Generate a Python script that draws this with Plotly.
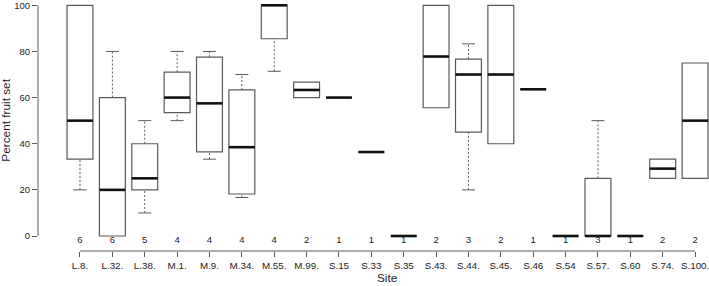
import plotly.graph_objects as go

sites = ["L.8.", "L.32.", "L.38.", "M.1.", "M.9.", "M.34.", "M.55.", "M.99.", "S.15", "S.33",
         "S.35", "S.43.", "S.44.", "S.45.", "S.46", "S.54", "S.57.", "S.60", "S.74.", "S.100."]
counts = [6, 6, 5, 4, 4, 4, 4, 2, 1, 1, 1, 2, 3, 2, 1, 1, 3, 1, 2, 2]
lower_whisker = [20, 0, 10, 50, 33.3, 16.7, 71.4, 60, 60, 36.4, 0, 55.6, 20, 40, 63.6, 0, 0, 0, 25, 25]
q1 = [33.3, 0, 20, 53.5, 36.5, 18.2, 85.5, 60, 60, 36.4, 0, 55.6, 45, 40, 63.6, 0, 0, 0, 25, 25]
median = [50, 20, 25, 60, 57.5, 38.5, 100, 63.3, 60, 36.4, 0, 77.8, 70, 70, 63.6, 0, 0, 0, 29.2, 50]
q3 = [100, 60, 40, 71, 77.5, 63.3, 100, 66.7, 60, 36.4, 0, 100, 76.7, 100, 63.6, 0, 25, 0, 33.3, 75]
upper_whisker = [100, 80, 50, 80, 80, 70, 100, 66.7, 60, 36.4, 0, 100, 83.3, 100, 63.6, 0, 50, 0, 33.3, 75]
y_ticks = [0, 20, 40, 60, 80, 100]

FONT = "Liberation Sans, Arial, Helvetica, sans-serif"
BOX_W = 0.8
CAP_W = 0.4
EDGE = "#5a5a5a"
TXT = "#222222"

xs = list(range(len(sites)))
fig = go.Figure()

# whiskers (dotted)
wx, wy = [], []
for i in xs:
    if upper_whisker[i] > q3[i]:
        wx += [i, i, None]; wy += [q3[i], upper_whisker[i], None]
    if lower_whisker[i] < q1[i]:
        wx += [i, i, None]; wy += [lower_whisker[i], q1[i], None]
fig.add_trace(go.Scatter(x=wx, y=wy, mode="lines", line=dict(color=EDGE, width=1, dash="2px,2px"),
                         hoverinfo="skip", showlegend=False, cliponaxis=False))

# staples
cx, cy = [], []
for i in xs:
    for v, ref in ((upper_whisker[i], q3[i]), (lower_whisker[i], q1[i])):
        if v != ref:
            cx += [i - CAP_W / 2, i + CAP_W / 2, None]; cy += [v, v, None]
fig.add_trace(go.Scatter(x=cx, y=cy, mode="lines", line=dict(color=EDGE, width=1),
                         hoverinfo="skip", showlegend=False, cliponaxis=False))

# boxes
fig.add_trace(go.Bar(x=xs, y=[q3[i] - q1[i] for i in xs], base=q1, width=BOX_W,
                     marker=dict(color="white", line=dict(color=EDGE, width=1.2)),
                     hoverinfo="skip", showlegend=False, cliponaxis=False))

# medians
mx, my = [], []
for i in xs:
    mx += [i - BOX_W / 2, i + BOX_W / 2, None]; my += [median[i], median[i], None]
fig.add_trace(go.Scatter(x=mx, y=my, mode="lines", line=dict(color="#111111", width=2.6),
                         hoverinfo="skip", showlegend=False, cliponaxis=False))

# sample sizes
fig.add_trace(go.Scatter(x=xs, y=[-2] * len(xs), mode="text", text=[str(c) for c in counts],
                         textfont=dict(family=FONT, size=9.5, color=TXT),
                         hoverinfo="skip", showlegend=False))

fig.update_layout(
    width=709, height=286,
    margin=dict(l=38, r=0, t=3, b=35),
    paper_bgcolor="white", plot_bgcolor="white",
    barmode="overlay",
    font=dict(family=FONT, size=10, color=TXT),
    xaxis=dict(range=[-1.297, 19.43], tickvals=xs, ticktext=sites, ticks="outside", ticklen=5,
               tickcolor=EDGE, showline=False, showgrid=False, zeroline=False,
               tickfont=dict(size=9.8, color=TXT), ticklabeloverflow="allow"),
    yaxis=dict(range=[-6.5, 101.0], tickvals=y_ticks, ticks="outside", ticklen=5, tickcolor=EDGE,
               showline=False, showgrid=False, zeroline=False, tickfont=dict(size=9.5, color=TXT),
               ticklabeloverflow="allow"),
    shapes=[
        dict(type="line", xref="paper", yref="y", x0=0, x1=0, y0=min(y_ticks), y1=max(y_ticks),
             line=dict(color=EDGE, width=1)),
        dict(type="line", xref="x", yref="paper", x0=xs[0], x1=xs[-1], y0=0, y1=0,
             line=dict(color=EDGE, width=1)),
    ],
    annotations=[
        dict(text="Percent fruit set", xref="paper", yref="y", x=0, y=50, xshift=-32,
             xanchor="center", yanchor="middle", textangle=-90, showarrow=False,
             font=dict(size=11.8, color=TXT)),
        dict(text="Site", xref="x", yref="paper", x=(xs[0] + xs[-1]) / 2, y=0, yshift=-27,
             xanchor="center", yanchor="middle", showarrow=False, font=dict(size=11.8, color=TXT)),
    ],
)

fig.write_html("out.html", config={"displayModeBar": False},
               post_script="document.body.style.margin='0';document.body.style.overflow='hidden';")
